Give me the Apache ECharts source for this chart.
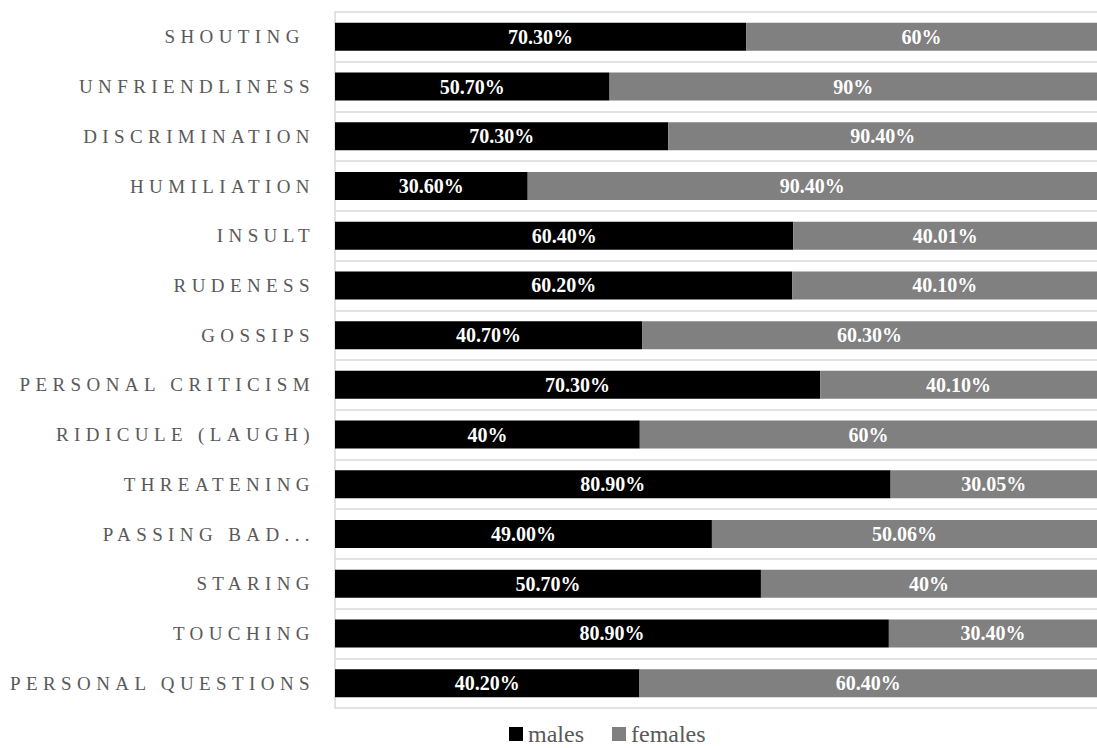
<!DOCTYPE html>
<html>
<head>
<meta charset="utf-8">
<script src="https://cdn.jsdelivr.net/npm/echarts@6/dist/echarts.min.js"></script>
<style>
  html, body { margin: 0; padding: 0; background: #ffffff; overflow: hidden; }
  #chart { width: 1097px; height: 748px; }
  #chart text[text-anchor="end"] { letter-spacing: 5.4px; }
</style>
</head>
<body>
<div id="chart"></div>
<script>
const categories = ['SHOUTING ', 'UNFRIENDLINESS', 'DISCRIMINATION', 'HUMILIATION', 'INSULT', 'RUDENESS', 'GOSSIPS', 'PERSONAL CRITICISM', 'RIDICULE (LAUGH)', 'THREATENING', 'PASSING BAD...', 'STARING', 'TOUCHING', 'PERSONAL QUESTIONS'];
const males = [70.30, 50.70, 70.30, 30.60, 60.40, 60.20, 40.70, 70.30, 40, 80.90, 49.00, 50.70, 80.90, 40.20];
const females = [60, 90, 90.40, 90.40, 40.01, 40.10, 60.30, 40.10, 60, 30.05, 50.06, 40, 30.40, 60.40];
const maleLabels = ['70.30%', '50.70%', '70.30%', '30.60%', '60.40%', '60.20%', '40.70%', '70.30%', '40%', '80.90%', '49.00%', '50.70%', '80.90%', '40.20%'];
const femaleLabels = ['60%', '90%', '90.40%', '90.40%', '40.01%', '40.10%', '60.30%', '40.10%', '60%', '30.05%', '50.06%', '40%', '30.40%', '60.40%'];

const maleShare = males.map((m, i) => m / (m + females[i]));
const femaleShare = females.map((f, i) => f / (males[i] + f));

const chart = echarts.init(document.getElementById('chart'), null, { renderer: 'svg' });
const valueLabel = (arr) => ({
  show: true,
  position: 'inside',
  color: '#ffffff',
  fontFamily: 'Liberation Serif',
  fontWeight: 'bold',
  fontSize: 20,
  formatter: (p) => arr[p.dataIndex]
});
chart.setOption({
  animation: false,
  backgroundColor: '#ffffff',
  grid: { left: 335, right: -11, top: 12, bottom: 40, containLabel: false },
  xAxis: {
    type: 'value', min: 0, max: 1, show: false
  },
  yAxis: {
    type: 'category',
    data: categories,
    inverse: true,
    axisLine: { show: true, lineStyle: { color: '#d9d9d9', width: 1.5 } },
    axisTick: { show: false },
    splitLine: { show: true, lineStyle: { color: '#d9d9d9', width: 1.5 } },
    axisLabel: {
      color: '#595959',
      fontFamily: 'Liberation Serif',
      fontSize: 19,
      margin: 20
    }
  },
  legend: {
    top: 722,
    left: 509,
    padding: 0,
    itemWidth: 14,
    itemHeight: 14,
    itemGap: 28,
    icon: 'rect',
    textStyle: { color: '#595959', fontFamily: 'Liberation Serif', fontSize: 24 },
    data: ['males', 'females']
  },
  series: [
    {
      name: 'males', type: 'bar', stack: 'total', barWidth: 28,
      itemStyle: { color: '#000000' },
      label: valueLabel(maleLabels),
      data: maleShare
    },
    {
      name: 'females', type: 'bar', stack: 'total', barWidth: 28,
      itemStyle: { color: '#808080' },
      label: valueLabel(femaleLabels),
      data: femaleShare
    }
  ]
});
</script>
</body>
</html>
